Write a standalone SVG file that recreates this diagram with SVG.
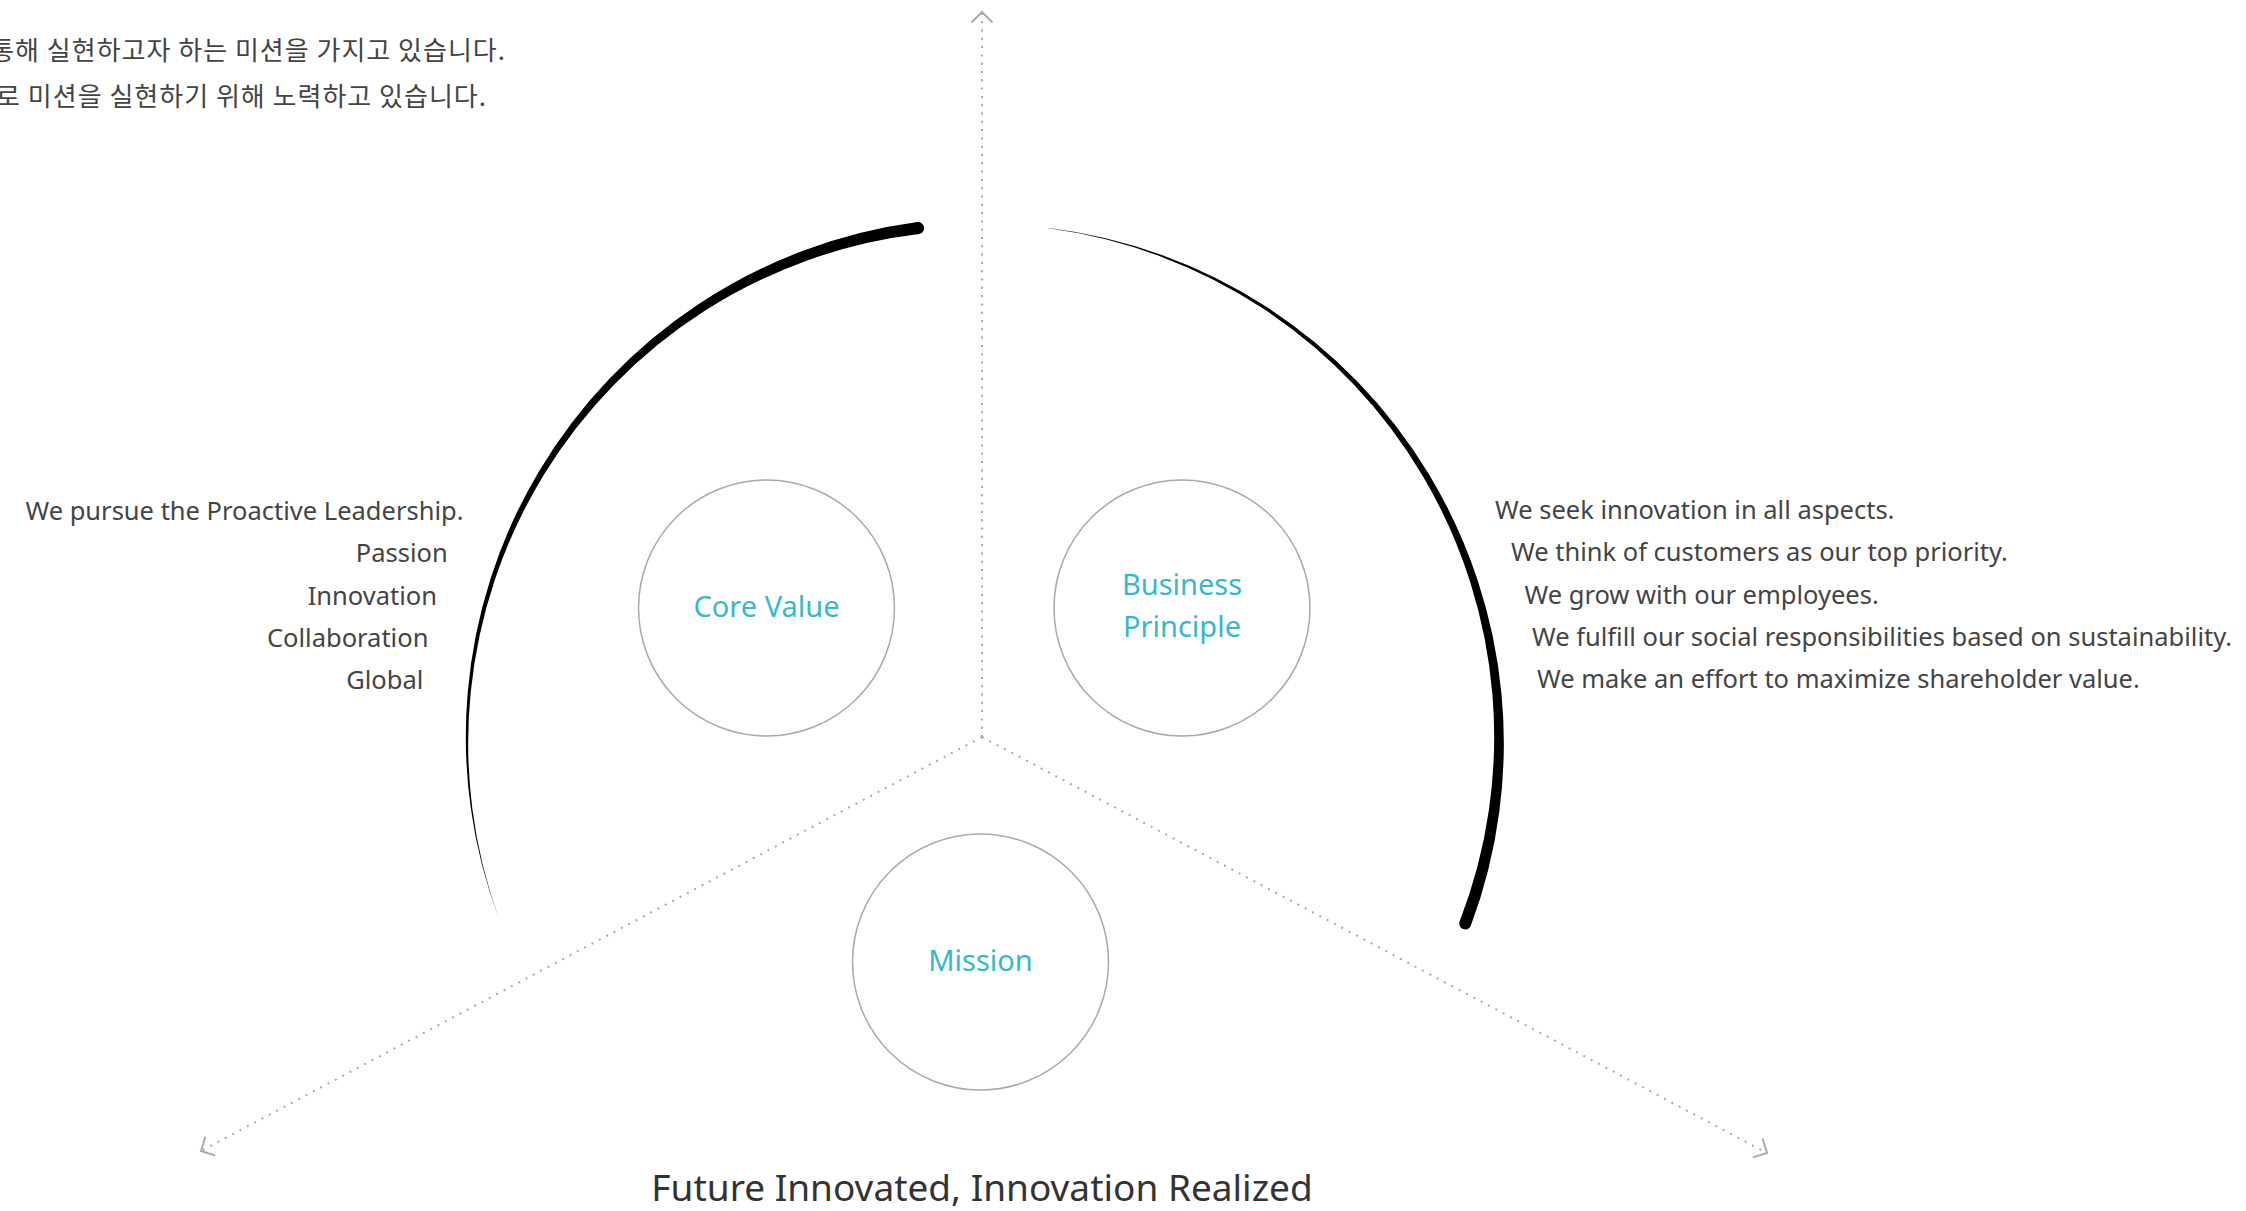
<svg xmlns="http://www.w3.org/2000/svg" width="2246" height="1211" viewBox="0 0 2246 1211">
<style>
.body{font-family:"Noto Sans","Open Sans",sans-serif;font-size:25.5px;fill:#444;}
.label{font-family:"Noto Sans","Open Sans",sans-serif;font-size:29px;fill:#36b9ca;}
.kr{font-family:"Noto Sans CJK KR","Noto Sans",sans-serif;font-size:26px;letter-spacing:1px;fill:#444;}
.title{font-family:"Noto Sans","Open Sans",sans-serif;font-size:37px;fill:#333;}
.ring{fill:#fff;stroke:#aaa;stroke-width:1.5;}
.dot{fill:none;stroke:#aaa;stroke-width:2;stroke-dasharray:2 6.3;}
.arc{fill:#000;stroke:none;}
</style>
<defs>
<marker id="arr" markerUnits="userSpaceOnUse" markerWidth="30" markerHeight="30" viewBox="-15 -15 30 30" refX="0" refY="0" orient="auto">
<path d="M-10.5,-10.5 L0,0 L-10.5,10.5" fill="none" stroke="#aaa" stroke-width="2" stroke-dasharray="none"/>
</marker>
</defs>
<rect width="2246" height="1211" fill="#fff"/>

<g id="intro">
<text class="kr" x="506" y="60" text-anchor="end">통해 실현하고자 하는 미션을 가지고 있습니다.</text>
<text class="kr" x="487" y="106" text-anchor="end">로 미션을 실현하기 위해 노력하고 있습니다.</text>
</g>

<g id="connectors">
<path class="dot" d="M982,737 L982,12" marker-end="url(#arr)"/>
<path class="dot" d="M982,737 L201,1151" marker-end="url(#arr)"/>
<path class="dot" d="M982,737 L1767,1153" marker-end="url(#arr)"/>
</g>

<g id="arcs">
<path class="arc" d="M499.7,920.7 A516.4,516.4 0 0 1 470.79,808.35 A517.1,517.1 0 0 1 467.71,692.20 A517.9,517.9 0 0 1 490.68,578.13 A518.6,518.6 0 0 1 538.60,471.92 A519.4,519.4 0 0 1 609.12,378.95 A520.1,520.1 0 0 1 698.76,303.97 A520.9,520.9 0 0 1 803.01,250.81 A521.6,521.6 0 0 1 917.58,222.12 A6,6 0 0 1 919.08,234.02 A510.4,510.4 0 0 0 806.64,260.67 A511.1,511.1 0 0 0 703.67,311.51 A511.9,511.9 0 0 0 614.52,384.16 A512.6,512.6 0 0 0 543.73,474.92 A513.4,513.4 0 0 0 494.95,579.54 A514.1,514.1 0 0 0 470.70,692.48 A514.9,514.9 0 0 0 472.27,808.15 A515.6,515.6 0 0 0 499.7,920.7 Z"/>
<path class="arc" d="M1048.58,228.04 A516.5,516.5 0 0 1 1161.82,255.04 A517.2,517.2 0 0 1 1266.40,306.86 A518,518 0 0 1 1356.91,381.01 A518.7,518.7 0 0 1 1428.32,473.31 A519.4,519.4 0 0 1 1477.42,579.54 A520.2,520.2 0 0 1 1501.53,694.27 A520.9,520.9 0 0 1 1499.31,811.74 A521.6,521.6 0 0 1 1470.82,925.79 A6,6 0 0 1 1459.61,921.52 A510.4,510.4 0 0 0 1488.87,810.29 A511.1,511.1 0 0 0 1492.48,695.07 A511.8,511.8 0 0 0 1470.19,581.89 A512.6,512.6 0 0 0 1423.05,476.46 A513.3,513.3 0 0 0 1353.53,384.26 A514,514 0 0 0 1264.63,309.56 A514.8,514.8 0 0 0 1161.21,256.69 A515.5,515.5 0 0 0 1048.54,228.34 Z"/>
</g>

<g id="core-value">
<circle class="ring" cx="766.5" cy="608" r="128"/>
<text class="label" x="766.5" y="616.5" text-anchor="middle">Core Value</text>
</g>

<g id="business-principle">
<circle class="ring" cx="1182" cy="608" r="128"/>
<text class="label" x="1182" y="595" text-anchor="middle">Business</text>
<text class="label" x="1182" y="637" text-anchor="middle">Principle</text>
</g>

<g id="mission">
<circle class="ring" cx="980.5" cy="962" r="128"/>
<text class="label" x="980.5" y="971" text-anchor="middle">Mission</text>
</g>

<g id="core-value-list">
<text class="body" x="463.5" y="520" text-anchor="end">We pursue the Proactive Leadership.</text>
<text class="body" x="447.7" y="562" text-anchor="end">Passion</text>
<text class="body" x="437" y="605" text-anchor="end">Innovation</text>
<text class="body" x="428.4" y="647" text-anchor="end">Collaboration</text>
<text class="body" x="423.3" y="689" text-anchor="end">Global</text>
</g>

<g id="business-principle-list">
<text class="body" x="1495" y="519">We seek innovation in all aspects.</text>
<text class="body" x="1511" y="561">We think of customers as our top priority.</text>
<text class="body" x="1524.5" y="604">We grow with our employees.</text>
<text class="body" x="1532" y="646">We fulfill our social responsibilities based on sustainability.</text>
<text class="body" x="1537" y="688">We make an effort to maximize shareholder value.</text>
</g>

<g id="title">
<text class="title" x="982" y="1201" text-anchor="middle">Future Innovated, Innovation Realized</text>
</g>
</svg>
